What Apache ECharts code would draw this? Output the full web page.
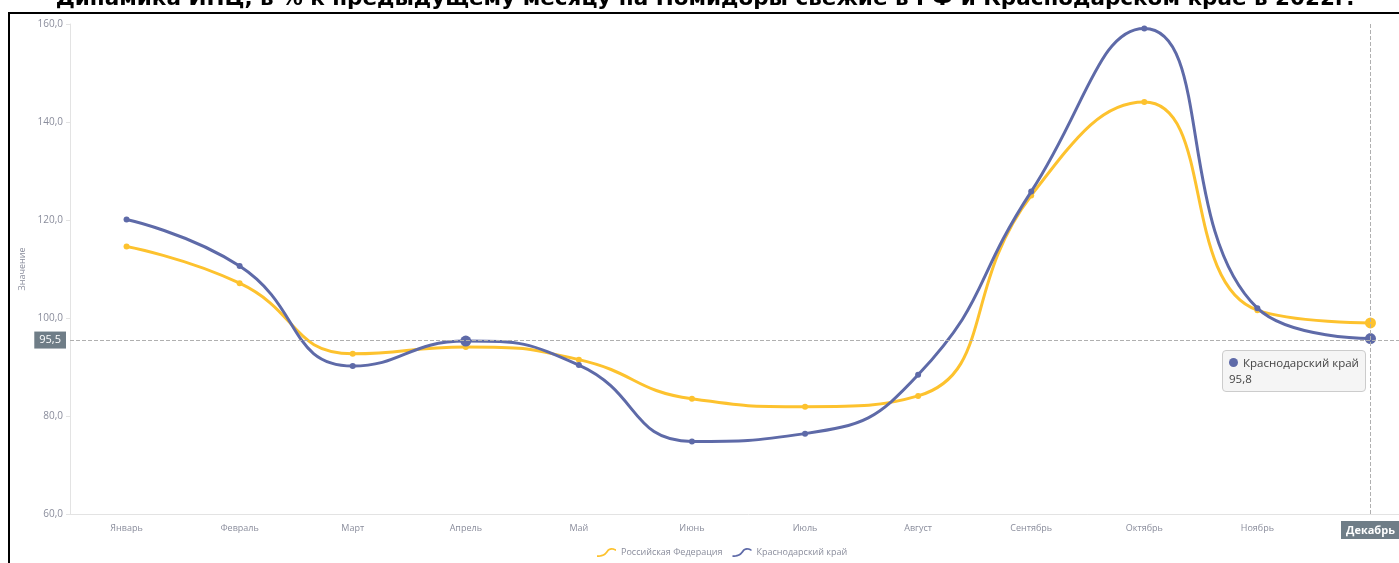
<!DOCTYPE html>
<html>
<head>
<meta charset="utf-8">
<script src="https://cdn.jsdelivr.net/npm/echarts@6/dist/echarts.min.js"></script>
<style>
html,body{margin:0;padding:0;background:#fff;overflow:hidden;width:1399px;height:563px;}
#chart{width:1427px;height:563px;}
</style>
</head>
<body>
<div id="chart"></div>
<script>
var titleText = 'Динамика ИПЦ, в % к предыдущему месяцу на Помидоры свежие в РФ и Краснодарском крае в 2022г.';
var months = ['Январь','Февраль','Март','Апрель','Май','Июнь','Июль','Август','Сентябрь','Октябрь','Ноябрь','Декабрь'];
var seriesNames = ['Российская Федерация','Краснодарский край'];
var rfValues = [114.6, 107.1, 92.7, 94.1, 91.5, 83.5, 81.9, 84.1, 125.0, 144.1, 101.6, 99.0];
var krValues = [120.1, 110.6, 90.2, 95.3, 90.4, 74.8, 76.4, 88.4, 125.8, 159.1, 102.0, 95.8];
var pointerValueY = 95.5;
var pointerIndexX = 11;

function fmt(v){ return Number(v).toFixed(1).replace('.', ','); }

var chart = echarts.init(document.getElementById('chart'));
var legendIcon = 'path://M0,10 C5,10 8,9 11,5 C14,1 17,1 22,3 L22,5 C17,3 15,3 12.5,6.5 C9,11 6,12 0,12 Z';

chart.setOption({
  animation: false,
  backgroundColor: '#ffffff',
  title: {
    text: titleText,
    left: 700,
    textAlign: 'center',
    top: -17,
    textStyle: { fontFamily: 'DejaVu Sans', fontWeight: 'bold', fontSize: 21.5, color: '#000' }
  },
  graphic: [{
    type: 'rect',
    shape: { x: 9, y: 13, width: 1600, height: 700 },
    style: { fill: 'none', stroke: '#000', lineWidth: 2 },
    z: 0, silent: true
  }],
  grid: { left: 70, right: 0, top: 24, bottom: 49 },
  legend: {
    data: seriesNames,
    left: 592,
    bottom: 1,
    itemWidth: 19,
    itemHeight: 9,
    itemGap: 10,
    icon: legendIcon,
    textStyle: { fontSize: 9, color: '#8a8d9c', fontFamily: 'Open Sans' }
  },
  tooltip: {
    trigger: 'item',
    position: [1222, 350],
    backgroundColor: '#f5f5f5',
    borderColor: '#cccccc',
    borderWidth: 1,
    borderRadius: 4,
    padding: [4, 6],
    extraCssText: 'box-shadow:none;line-height:16px;',
    textStyle: { fontSize: 11.5, color: '#444', fontFamily: 'Open Sans', lineHeight: 16 },
    formatter: function (p) {
      return '<span style="display:inline-block;width:9px;height:9px;border-radius:50%;background:' + p.color + ';margin-right:5px;"></span>' +
        p.seriesName + '<br/>' + fmt(p.value);
    }
  },
  axisPointer: { triggerOn: 'none' },
  xAxis: {
    type: 'category',
    data: months,
    boundaryGap: true,
    axisLine: { lineStyle: { color: '#e3e3e3' } },
    axisTick: { alignWithLabel: true, length: 4, lineStyle: { color: '#e3e3e3' } },
    axisLabel: { fontSize: 9, color: '#8a8d9c', margin: 10, fontFamily: 'Open Sans' },
    splitLine: { show: false },
    axisPointer: {
      show: true,
      type: 'line',
      value: pointerIndexX,
      status: 'show',
      triggerOn: 'none',
      lineStyle: { color: '#b0b0b0', type: 'dashed', width: 1 },
      label: {
        show: true,
        backgroundColor: '#6f7d87',
        color: '#fff',
        fontSize: 11,
        fontWeight: 'bold',
        padding: [4, 5, 3, 5],
        borderRadius: 0,
        margin: 7,
        fontFamily: 'Open Sans'
      }
    }
  },
  yAxis: {
    type: 'value',
    min: 60,
    max: 160,
    interval: 20,
    name: 'Значение',
    nameLocation: 'middle',
    nameGap: 36,
    nameTextStyle: { fontSize: 9, color: '#8a8d9c', fontFamily: 'Open Sans' },
    axisLine: { show: true, lineStyle: { color: '#e3e3e3' } },
    axisTick: { show: true, length: 4, lineStyle: { color: '#e3e3e3' } },
    axisLabel: { fontSize: 10, color: '#8a8d9c', margin: 7, fontFamily: 'Open Sans', formatter: fmt },
    splitLine: { show: false },
    axisPointer: {
      show: true,
      type: 'line',
      value: pointerValueY,
      status: 'show',
      triggerOn: 'none',
      lineStyle: { color: '#b0b0b0', type: 'dashed', width: 1 },
      label: {
        show: true,
        backgroundColor: '#6f7d87',
        color: '#fff',
        fontSize: 11,
        padding: [3, 5, 3, 5],
        borderRadius: 0,
        margin: 4,
        fontFamily: 'Open Sans',
        formatter: function (p) { return fmt(p.value); }
      }
    }
  },
  series: [
    {
      name: seriesNames[0],
      type: 'line',
      data: rfValues,
      smooth: true,
      symbol: 'circle',
      symbolSize: function (v, p) { return p.dataIndex === 11 ? 11 : 6; },
      lineStyle: { width: 3, color: '#fdc22e' },
      itemStyle: { color: '#fdc22e' },
      z: 2
    },
    {
      name: seriesNames[1],
      type: 'line',
      data: krValues,
      smooth: true,
      symbol: 'circle',
      symbolSize: function (v, p) { return (p.dataIndex === 11 || p.dataIndex === 3) ? 11 : 6; },
      lineStyle: { width: 3, color: '#5e6aa8' },
      itemStyle: { color: '#5e6aa8' },
      z: 3
    }
  ]
});

setTimeout(function () {
  chart.dispatchAction({ type: 'showTip', seriesIndex: 1, dataIndex: 11 });
}, 50);
</script>
</body>
</html>
